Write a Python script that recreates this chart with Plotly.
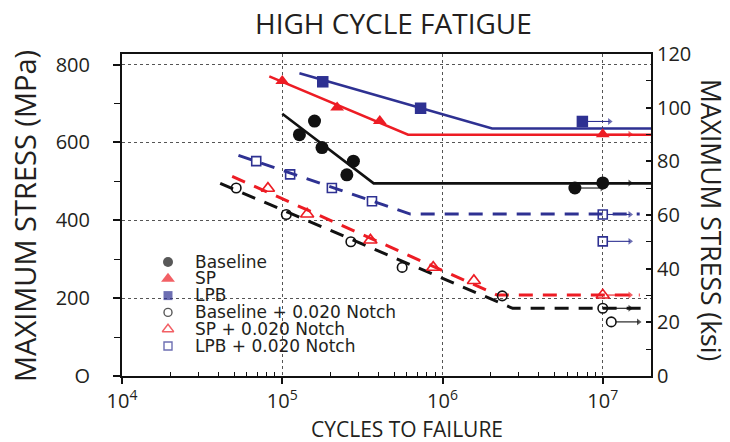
import numpy as np
import plotly.graph_objects as go

# ---------------- data (cycles to failure, max stress in MPa) ----------------
base_n = [1.28e5, 1.59e5, 1.77e5, 2.53e5, 2.78e5, 6.7e6, 1.0e7]
base_s = [620, 655, 587, 517, 552, 483, 496]
base_runout = [False, False, False, False, False, True, True]

sp_n = [1.0e5, 2.2e5, 4.06e5, 1.0e7]
sp_s = [758, 690, 655, 621]
sp_runout = [False, False, False, True]

lpb_n = [1.79e5, 7.3e5, 7.46e6]
lpb_s = [756, 688, 654]
lpb_runout = [False, False, True]

nbase_n = [5.16e4, 1.06e5, 2.68e5, 5.6e5, 2.36e6, 1.0e7, 1.13e7]
nbase_s = [483, 415, 345, 279, 206, 174, 139]
nbase_runout = [False, False, False, False, False, True, True]

nsp_n = [8.14e4, 1.43e5, 3.55e5, 8.75e5, 1.57e6, 1.0e7]
nsp_s = [482, 416, 349, 279, 245, 208]
nsp_runout = [False, False, False, False, False, True]

nlpb_n = [6.88e4, 1.12e5, 2.04e5, 3.63e5, 1.0e7, 1.0e7]
nlpb_s = [552, 518, 483, 449, 415, 346]
nlpb_runout = [False, False, False, False, True, True]

# fitted curves
base_fit_n = [1.0e5, 3.72e5, 2.0e7]
base_fit_s = [674, 495, 495]
sp_fit_n = [8.3e4, 6.1e5, 2.0e7]
sp_fit_s = [770, 620, 620]
lpb_fit_n = [1.28e5, 2.04e6, 2.0e7]
lpb_fit_s = [778, 636, 636]
nbase_fit_n = [4.1e4, 2.74e6, 1.73e7]
nbase_fit_s = [495, 174, 174]
nsp_fit_n = [4.87e4, 2.2e6, 1.7e7]
nsp_fit_s = [513, 208, 208]
nlpb_fit_n = [5.33e4, 6.3e5, 1.7e7]
nlpb_fit_s = [567, 416, 416]

legend_labels = ["Baseline", "SP", "LPB", "Baseline + 0.020 Notch",
                 "SP + 0.020 Notch", "LPB + 0.020 Notch"]

x_tickvals = [1e4, 1e5, 1e6, 1e7]
x_ticktext = ["10<sup>4</sup>", "10<sup>5</sup>", "10<sup>6</sup>", "10<sup>7</sup>"]
y_tickvals = [0, 200, 400, 600, 800]
y_ticktext = ["O", "200", "400", "600", "800"]
ksi_tickvals = [0, 20, 40, 60, 80, 100, 120]

MPA_PER_KSI = 6.894757
X_MAX = 2.0e7
Y_MAX_KSI = 120

# ---------------- styles ----------------
BLACK = "#111111"
RED = "#ED1C24"
NAVY = "#2E3192"
TXT = "#231F20"
FONT = "Open Sans"

series = [
    (base_n, base_s, base_runout, base_fit_n, base_fit_s, BLACK, "circle", 13, "solid"),
    (sp_n, sp_s, sp_runout, sp_fit_n, sp_fit_s, RED, "triangle-up", 12, "solid"),
    (lpb_n, lpb_s, lpb_runout, lpb_fit_n, lpb_fit_s, NAVY, "square", 11.5, "solid"),
    (nbase_n, nbase_s, nbase_runout, nbase_fit_n, nbase_fit_s, BLACK, "circle-open", 9.5, "dash"),
    (nsp_n, nsp_s, nsp_runout, nsp_fit_n, nsp_fit_s, RED, "triangle-up-open", 11.5, "dash"),
    (nlpb_n, nlpb_s, nlpb_runout, nlpb_fit_n, nlpb_fit_s, NAVY, "square-open", 9, "dash"),
]

fig = go.Figure()

# fitted lines
for n, s, ro, fn, fs, col, sym, size, dash in series:
    fig.add_trace(go.Scatter(
        x=fn, y=fs, mode="lines",
        line=dict(color=col, width=2.6 if dash == "solid" else 3,
                  dash="solid" if dash == "solid" else "14px,10px"),
        hoverinfo="skip", showlegend=False))

# run-out arrows (shaft + small head), starting just right of each run-out point
ARROW_START_DEC = 0.03
ARROW_END_DEC = 0.17
for n, s, ro, fn, fs, col, sym, size, dash in series:
    for ni, si, r in zip(n, s, ro):
        if r:
            fig.add_trace(go.Scatter(
                x=[ni * 10 ** ARROW_START_DEC, ni * 10 ** ARROW_END_DEC],
                y=[si, si], mode="lines+markers",
                line=dict(color=col, width=1.1),
                marker=dict(symbol="triangle-right", size=[0, 6], color=col,
                            line=dict(width=0)),
                hoverinfo="skip", showlegend=False, cliponaxis=False))

# data markers
for n, s, ro, fn, fs, col, sym, size, dash in series:
    fig.add_trace(go.Scatter(
        x=n, y=s, mode="markers",
        marker=dict(symbol=sym, size=size, color=col,
                    line=dict(width=1.6 if "open" in sym else 0, color=col)),
        showlegend=False, cliponaxis=False))

# secondary (ksi) axis carrier trace
fig.add_trace(go.Scatter(x=[None], y=[None], yaxis="y2", showlegend=False))

annotations = []

# ---------------- layout geometry (pixels) ----------------
W, H = 730, 442
PX0, PX1, PY0, PY1 = 122, 651, 54, 376


def px_x(px):
    return (px - PX0) / (PX1 - PX0)


def px_y(py):
    return (PY1 - py) / (PY1 - PY0)


# manual legend
LEG_MX, LEG_TX, LEG_Y0, LEG_DY = 168, 193, 262, 16.8
leg_x, leg_y, leg_sym, leg_col, leg_size, leg_lw = [], [], [], [], [], []
for i, (lab, sr) in enumerate(zip(legend_labels, series)):
    yy = px_y(LEG_Y0 + i * LEG_DY)
    sym, col = sr[6], sr[5]
    leg_x.append(px_x(LEG_MX))
    leg_y.append(yy)
    leg_sym.append(sym)
    leg_col.append(col)
    leg_size.append([10, 12, 9, 8, 10, 8][i])
    leg_lw.append(1.4 if "open" in sym else 0)
    annotations.append(dict(
        x=px_x(LEG_TX), y=yy, xref="paper", yref="paper", text=lab,
        showarrow=False, xanchor="left", yanchor="middle", height=LEG_DY,
        font=dict(family="DejaVu Sans", size=17, color=TXT)))

fig.add_trace(go.Scatter(
    x=leg_x, y=leg_y, mode="markers", xaxis="x3", yaxis="y3",
    marker=dict(symbol=leg_sym, color=leg_col, size=leg_size,
                line=dict(width=leg_lw, color=leg_col)),
    showlegend=False, cliponaxis=False, hoverinfo="skip"))

# titles
annotations += [
    dict(x=px_x(393), y=px_y(23), xref="paper", yref="paper",
         text="HIGH CYCLE FATIGUE", showarrow=False,
         xanchor="center", yanchor="middle",
         font=dict(family=FONT, size=28, color=TXT)),
    dict(x=px_x(25), y=px_y(216), xref="paper", yref="paper",
         text="MAXIMUM STRESS (MPa)", showarrow=False, textangle=-90,
         xanchor="center", yanchor="middle",
         font=dict(family=FONT, size=29, color=TXT)),
    dict(x=px_x(711), y=px_y(220), xref="paper", yref="paper",
         text="MAXIMUM STRESS (ksi)", showarrow=False, textangle=90,
         xanchor="center", yanchor="middle",
         font=dict(family=FONT, size=26.5, color=TXT)),
    dict(x=px_x(407), y=px_y(429), xref="paper", yref="paper",
         text="CYCLES TO FAILURE", showarrow=False,
         xanchor="center", yanchor="middle",
         font=dict(family=FONT, size=21, color=TXT)),
]

minor_x = [m * 10 ** e for e in range(4, 8) for m in range(2, 10)]

fig.update_layout(
    width=W, height=H,
    margin=dict(l=PX0, r=W - PX1, t=PY0, b=H - PY1),
    paper_bgcolor="white", plot_bgcolor="white",
    showlegend=False,
    font=dict(family=FONT, color=TXT),
    xaxis=dict(
        type="log", range=[4, np.log10(X_MAX)],
        tickvals=x_tickvals, ticktext=x_ticktext,
        tickfont=dict(size=20, color=TXT),
        ticks="outside", ticklen=6, tickwidth=1.5, tickcolor=BLACK,
        showline=True, linecolor=BLACK, linewidth=2, mirror=True,
        showgrid=True, gridcolor="#555555", gridwidth=1, griddash="dot",
        minor=dict(tickvals=minor_x, ticks="inside", ticklen=4,
                   tickcolor=BLACK, tickwidth=1, showgrid=False),
        zeroline=False),
    yaxis=dict(
        range=[0, Y_MAX_KSI * MPA_PER_KSI],
        tickvals=y_tickvals, ticktext=y_ticktext,
        tickfont=dict(size=20, color=TXT),
        ticks="outside", ticklen=7, tickwidth=1.5, tickcolor=BLACK,
        ticklabelstandoff=19,
        showline=True, linecolor=BLACK, linewidth=2,
        showgrid=True, gridcolor="#555555", gridwidth=1, griddash="dot",
        minor=dict(dtick=100, ticks="outside", ticklen=6, tickcolor=BLACK,
                   tickwidth=1, showgrid=False),
        zeroline=False),
    yaxis2=dict(
        overlaying="y", side="right", range=[0, Y_MAX_KSI],
        tickvals=ksi_tickvals, tickfont=dict(size=20, color=TXT),
        ticks="inside", ticklen=5, tickwidth=1.5, tickcolor=BLACK,
        showline=True, linecolor=BLACK, linewidth=2,
        showgrid=False, zeroline=False,
        minor=dict(dtick=10, ticks="inside", ticklen=5, tickcolor=BLACK,
                   tickwidth=1.2, showgrid=False)),
    xaxis3=dict(overlaying="x", anchor="y3", range=[0, 1], visible=False),
    yaxis3=dict(overlaying="y", anchor="x3", range=[0, 1], visible=False),
    annotations=annotations,
)

fig.write_html("out.html")
